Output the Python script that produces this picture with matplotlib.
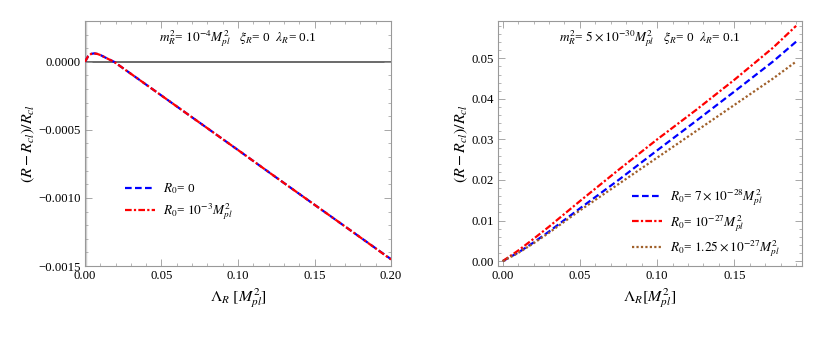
import numpy as np
import matplotlib
matplotlib.use("Agg")
import matplotlib.pyplot as plt
from matplotlib.ticker import MultipleLocator, FuncFormatter

plt.rcParams["font.family"] = ["Liberation Serif", "DejaVu Serif"]
plt.rcParams["mathtext.fontset"] = "stix"

# left panel: m_R^2 = 1e-4 M_pl^2
lam_left = [0.0, 0.002, 0.004, 0.006, 0.008, 0.010, 0.013, 0.016, 0.019,
            0.025, 0.03, 0.05, 0.075, 0.10, 0.125, 0.15, 0.175, 0.20]
dev_r0_zero = [0.0, 0.000040, 0.000058, 0.000062, 0.000058, 0.000050, 0.000033,
               0.000016, 0.0, -0.000048, -0.000088, -0.000248, -0.000448,
               -0.000648, -0.000850, -0.001050, -0.001250, -0.001450]
dev_r0_1em3 = [0.0, 0.000040, 0.000058, 0.000062, 0.000058, 0.000050, 0.000033,
               0.000016, 0.0, -0.000048, -0.000088, -0.000248, -0.000448,
               -0.000648, -0.000850, -0.001050, -0.001250, -0.001452]

# right panel: m_R^2 = 5e-30 M_pl^2
lam_right = [0.0, 0.01, 0.02, 0.03, 0.05, 0.075, 0.10, 0.125, 0.15, 0.175, 0.19]
dev_7em28 = [0.0, 0.0021, 0.0046, 0.0073, 0.0130, 0.0200, 0.0273, 0.0345, 0.0418, 0.0492, 0.0541]
dev_1em27 = [0.0, 0.0026, 0.0055, 0.0085, 0.0148, 0.0225, 0.0300, 0.0372, 0.0447, 0.0526, 0.0580]
dev_125em27 = [0.0, 0.0020, 0.0044, 0.0070, 0.0125, 0.0190, 0.0255, 0.0320, 0.0385, 0.0450, 0.0492]

frame_col = "#999999"


def style_axes(ax, xmaj, xmin, ymaj, ymin):
    for s in ax.spines.values():
        s.set_color(frame_col)
        s.set_linewidth(0.8)
    ax.xaxis.set_major_locator(MultipleLocator(xmaj))
    ax.xaxis.set_minor_locator(MultipleLocator(xmin))
    ax.yaxis.set_major_locator(MultipleLocator(ymaj))
    ax.yaxis.set_minor_locator(MultipleLocator(ymin))
    ax.tick_params(which="both", direction="in", top=True, right=True,
                   color=frame_col, labelsize=9.2, pad=3)
    ax.tick_params(which="major", length=5, width=0.6)
    ax.tick_params(which="minor", length=2.5, width=0.5)


def ylab4(v, p):
    if abs(v) < 1e-12:
        return "0.0000"
    return f"{v:.4f}".replace("-", "\u2212")


fig = plt.figure(figsize=(8.3, 3.38), dpi=100)

ax1 = fig.add_axes([0.1024, 0.213, 0.3687, 0.725])
ax1.axvline(0, color="#d0d0d0", lw=2.5, zorder=1)
ax1.axhline(0, color="#505050", lw=1.2, zorder=1)
ax1.plot(lam_left, dev_r0_zero, color="blue", ls=(0, (3, 1.5)), lw=1.6,
         label=r"$R_0$= 0", zorder=3)
ax1.plot(lam_left, dev_r0_1em3, color="red", ls=(0, (3, 1, 1, 1)), lw=1.6,
         label=r"$R_0$= $10^{-3}M_{pl}^2$", zorder=4)
ax1.set_xlim(0, 0.20)
ax1.set_ylim(-0.0015, 0.0003)
style_axes(ax1, 0.05, 0.01, 0.0005, 0.0001)
ax1.xaxis.set_major_formatter(FuncFormatter(lambda v, p: f"{v:.2f}"))
ax1.yaxis.set_major_formatter(FuncFormatter(ylab4))
ax1.set_xlabel(r"$\Lambda_R\ [M_{pl}^2]$", fontsize=11.5, labelpad=3)
ax1.set_ylabel(r"$(R-R_{cl})/R_{cl}$", fontsize=11.5, labelpad=1)
ax1.text(0.5, 0.93, r"$m_R^2$= $10^{-4}M_{pl}^2$   $\xi_R$= 0  $\lambda_R$= 0.1",
         transform=ax1.transAxes, ha="center", va="center", fontsize=9.5)
ax1.legend(loc="upper left", bbox_to_anchor=(0.131, 0.345), frameon=False,
           borderpad=0, borderaxespad=0,
           fontsize=9.5, handlelength=2.3, handletextpad=0.55, labelspacing=0.4)

ax2 = fig.add_axes([0.5997, 0.213, 0.3666, 0.725])
ax2.plot(lam_right, dev_7em28, color="blue", ls=(0, (3, 1.5)), lw=1.6,
         label=r"$R_0$= $7\times10^{-28}M_{pl}^2$")
ax2.plot(lam_right, dev_1em27, color="red", ls=(0, (3, 1, 1, 1)), lw=1.6,
         label=r"$R_0$= $10^{-27}M_{pl}^2$")
ax2.plot(lam_right, dev_125em27, color="#a0602a", ls=(0, (1, 1)), lw=1.6,
         label=r"$R_0$= $1.25\times10^{-27}M_{pl}^2$")
ax2.set_xlim(-0.0032, 0.1938)
ax2.set_ylim(-0.0012, 0.0592)
style_axes(ax2, 0.05, 0.01, 0.01, 0.002)
ax2.xaxis.set_major_formatter(FuncFormatter(lambda v, p: f"{v:.2f}"))
ax2.yaxis.set_major_formatter(FuncFormatter(lambda v, p: f"{v:.2f}"))
ax2.set_xlabel(r"$\Lambda_R[M_{pl}^2]$", fontsize=11.5, labelpad=3)
ax2.set_ylabel(r"$(R-R_{cl})/R_{cl}$", fontsize=11.5, labelpad=1)
ax2.text(0.5, 0.93, r"$m_R^2$= $5\times10^{-30}M_{pl}^2$   $\xi_R$= 0  $\lambda_R$= 0.1",
         transform=ax2.transAxes, ha="center", va="center", fontsize=9.5)
ax2.legend(loc="upper left", bbox_to_anchor=(0.441, 0.32), frameon=False,
           borderpad=0, borderaxespad=0,
           fontsize=9.5, handlelength=2.3, handletextpad=0.55, labelspacing=0.33)

fig.savefig("out.png", dpi=100)
